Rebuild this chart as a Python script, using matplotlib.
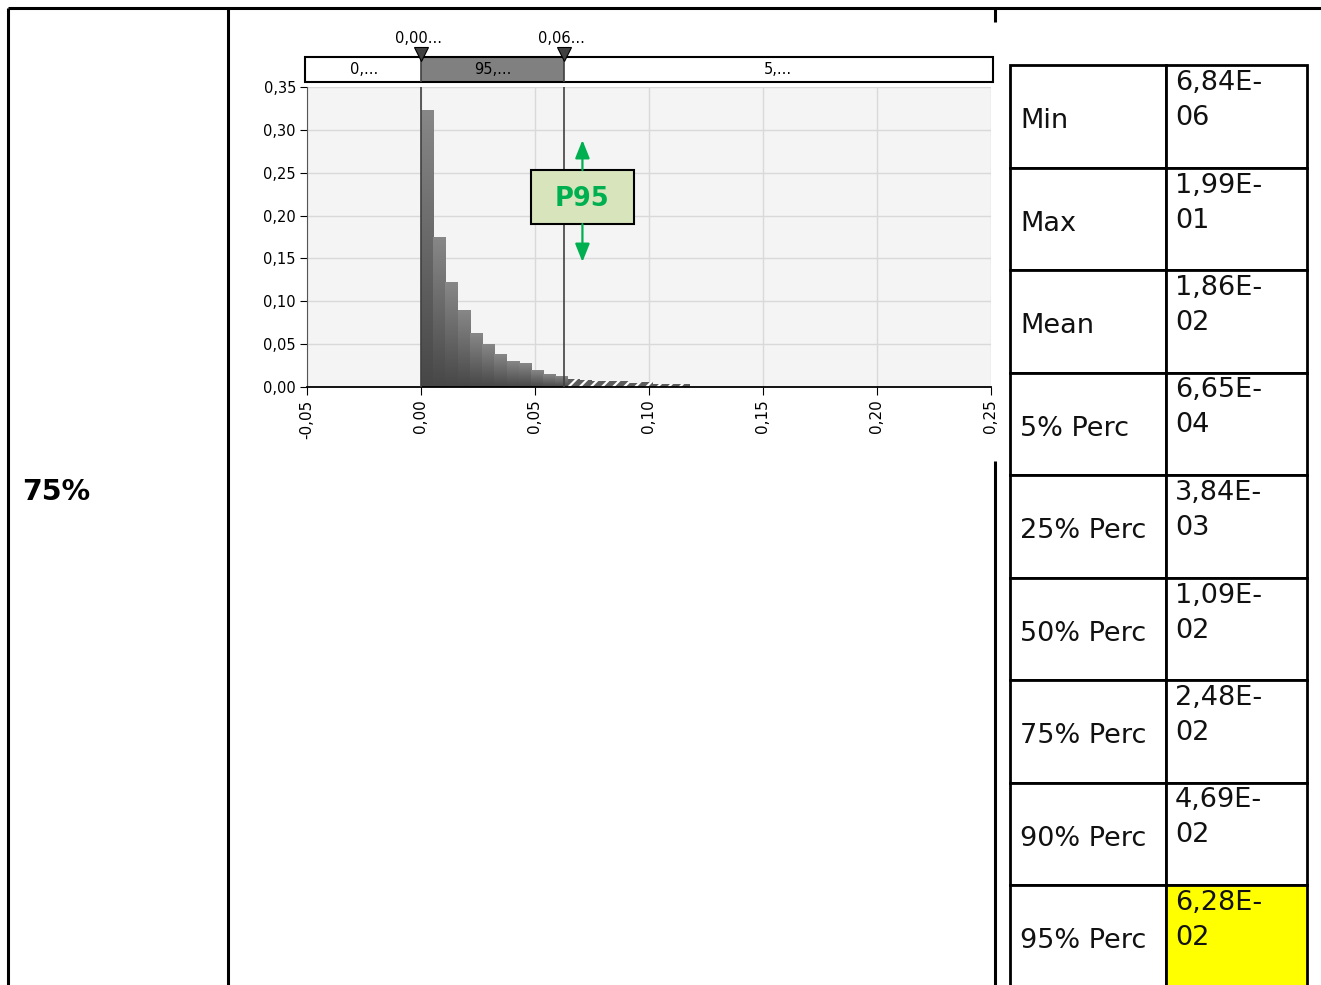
import numpy as np
import matplotlib
matplotlib.use('Agg')
import matplotlib.pyplot as plt
import matplotlib.transforms as mtransforms
from matplotlib.patches import Rectangle
from matplotlib.colors import LinearSegmentedColormap

W, H = 1321, 985

# histogram (relative frequency), equal bins starting at 0
bin_width = 0.00536
freq_in = [0.323, 0.175, 0.1225, 0.0887, 0.063, 0.050, 0.0385, 0.030,
           0.028, 0.0187, 0.015, 0.0128]
freq_tail = [0.0095, 0.008, 0.0075, 0.0075, 0.0075, 0.005, 0.006,
             0.004, 0.004, 0.004]

lower_mark = 0.0
upper_mark = 0.0628
mark_labels = ['0,00...', '0,06...']
band_labels = ['0,...', '95,...', '5,...']
marker_text = 'P95'

x_ticks = [-0.05, 0.0, 0.05, 0.10, 0.15, 0.20, 0.25]
y_ticks = [0.0, 0.05, 0.10, 0.15, 0.20, 0.25, 0.30, 0.35]

row_label = '75%'
stat_names = ['Min', 'Max', 'Mean', '5% Perc', '25% Perc', '50% Perc',
              '75% Perc', '90% Perc', '95% Perc']
stat_values = ['6,84E-\n06', '1,99E-\n01', '1,86E-\n02', '6,65E-\n04',
               '3,84E-\n03', '1,09E-\n02', '2,48E-\n02', '4,69E-\n02',
               '6,28E-\n02']
highlight = '95% Perc'

plt.rcParams['font.family'] = ['DejaVu Sans']
plt.rcParams['hatch.linewidth'] = 1.6


def px_box(x0, y0, x1, y1):
    return [x0 / W, 1 - y1 / H, (x1 - x0) / W, (y1 - y0) / H]


def comma(v, pos=None):
    return f'{v:.2f}'.replace('.', ',')


fig = plt.figure(figsize=(W / 100, H / 100), dpi=100)

# page frame / table, drawn in pixel coordinates
ov = fig.add_axes([0, 0, 1, 1], zorder=-1)
ov.set_xlim(0, W)
ov.set_ylim(H, 0)
ov.axis('off')
frame = dict(color='black', lw=2.2, solid_capstyle='butt')
ov.plot([8, W], [8, 8], **frame)
ov.plot([8, 8], [8, H], **frame)
ov.plot([228, 228], [8, H], **frame)
ov.plot([995, 995], [8, 22], **frame)
ov.plot([995, 995], [461, H], **frame)
ov.text(22, 492, row_label, fontsize=20.5, fontweight='bold', va='center')

row_top, row_h = 65, 102.5
for i, (name, val) in enumerate(zip(stat_names, stat_values)):
    y0 = row_top + i * row_h
    ov.add_patch(Rectangle((1010, y0), 156, row_h, fc='white', ec='black', lw=2))
    ov.add_patch(Rectangle((1166, y0), 141, row_h,
                           fc='#ffff00' if name == highlight else 'white',
                           ec='black', lw=2))
    ov.text(1020, y0 + row_h / 2 + 5, name, fontsize=19.5, va='center',
            color='#111111')
    ov.text(1175, y0 + 5, val, fontsize=19.5, va='top', linespacing=1.45,
            color='#111111')

# histogram
ax = fig.add_axes(px_box(307, 87, 991, 387))
ax.set_facecolor('#f4f4f4')
grad = np.linspace(0, 1, 100).reshape(-1, 1)
cmap = LinearSegmentedColormap.from_list('bar', ['#474747', '#878787'])
for i, h in enumerate(freq_in):
    left = i * bin_width
    ax.imshow(grad, cmap=cmap, extent=[left, left + bin_width, 0, h],
              origin='lower', aspect='auto', interpolation='bilinear', zorder=2)
tail_left = [(len(freq_in) + i) * bin_width for i in range(len(freq_tail))]
ax.bar(tail_left, freq_tail, width=bin_width, align='edge', color='#5c5c5c',
       edgecolor='white', lw=0, hatch='///', zorder=2)

for m in (lower_mark, upper_mark):
    ax.axvline(m, color='#404040', lw=1.2, zorder=3)

ax.set_xlim(-0.05, 0.25)
ax.set_ylim(0, 0.35)
ax.set_xticks(x_ticks)
ax.set_yticks(y_ticks)
ax.xaxis.set_major_formatter(comma)
ax.yaxis.set_major_formatter(comma)
ax.tick_params(axis='x', length=6, rotation=90, labelsize=11, pad=3)
ax.tick_params(axis='y', length=5, labelsize=10.5, pad=3)
ax.grid(color='#d9d9d9', lw=1)
ax.set_axisbelow(True)
for s in ('top', 'right'):
    ax.spines[s].set_visible(False)
ax.spines['left'].set_color('#555555')
ax.spines['bottom'].set_linewidth(1.3)

# P95 marker box with arrows
trans = mtransforms.blended_transform_factory(ax.transData, ax.transAxes)
cx = upper_mark + 0.008
ax.add_patch(Rectangle((cx - 0.0226, 0.543), 0.0452, 0.18, transform=trans,
                       fc='#d8e4bc', ec='black', lw=1.5, zorder=5))
ax.text(cx, 0.625, marker_text, transform=trans, ha='center', va='center',
        fontsize=18.5, fontweight='bold', color='#00b050', zorder=6)
astyle = dict(arrowstyle='-|>,head_length=0.55,head_width=0.22', color='#00b050',
              lw=1.6, mutation_scale=20, shrinkA=0, shrinkB=0)
ax.annotate('', xy=(cx, 0.823), xytext=(cx, 0.723), xycoords=trans,
            textcoords=trans, arrowprops=astyle, zorder=6)
ax.annotate('', xy=(cx, 0.417), xytext=(cx, 0.543), xycoords=trans,
            textcoords=trans, arrowprops=astyle, zorder=6)

# percentile band above the chart
bax = fig.add_axes(px_box(307, 57, 991, 82))
bax.set_xlim(-0.05, 0.25)
bax.set_ylim(0, 1)
bax.axis('off')
bax.add_patch(Rectangle((-0.05, 0), 0.30, 1, fc='white', ec='none', clip_on=False))
bax.add_patch(Rectangle((lower_mark, 0), upper_mark - lower_mark, 1,
                        fc='#808080', ec='none', clip_on=False))
bax.add_patch(Rectangle((-0.0509, 0), 0.3018, 1, fc='none', ec='black',
                        lw=1.5, clip_on=False))
for m in (lower_mark, upper_mark):
    bax.axvline(m, color='#404040', lw=1.2)
bax.plot([lower_mark, upper_mark], [1.12, 1.12], ls='none', marker='v', ms=10,
         color='#404040', mec='black', mew=0.8, clip_on=False, zorder=5)
for m, lab in zip((lower_mark, upper_mark), mark_labels):
    bax.text(m - 0.001, 1.76, lab, ha='center', va='center', fontsize=10.5)
band_mid = [(-0.05 + lower_mark) / 2, (lower_mark + upper_mark) / 2,
            (upper_mark + 0.25) / 2]
for xm, lab in zip(band_mid, band_labels):
    bax.text(xm, 0.52, lab, ha='center', va='center', fontsize=10.5)

fig.savefig('out.png', dpi=100)
